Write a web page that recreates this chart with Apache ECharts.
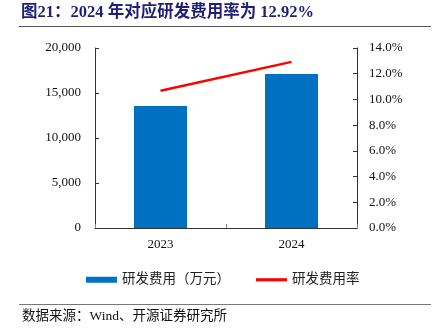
<!DOCTYPE html>
<html><head><meta charset="utf-8">
<script src="https://cdn.jsdelivr.net/npm/echarts@6/dist/echarts.min.js"></script>
<style>html,body{margin:0;padding:0;background:#fff}#c{width:443px;height:335px}</style>
</head><body><div id="c"></div>
<script>
const categories = ['2023', '2024'];
const rdExpense = [13550, 17110];
const rdRate = [10.68, 12.92];
const leftTicks = [0, 5000, 10000, 15000, 20000];
const rightTicks = [0, 2, 4, 6, 8, 10, 12, 14];

const FONT = '"Liberation Serif", "Noto Sans CJK SC", serif';
const chart = echarts.init(document.getElementById('c'));
chart.setOption({
  animation: false,
  textStyle: { fontFamily: FONT },
  graphic: [
    { type: 'text', left: 21, top: 4, style: { text: '图21：2024 年对应研发费用率为 12.92%', font: 'bold 16.5px ' + FONT, fill: '#1F1F7A' } },
    { type: 'line', shape: { x1: 19, y1: 26.5, x2: 431, y2: 26.5 }, style: { stroke: '#555', lineWidth: 1.2 } },
    { type: 'line', shape: { x1: 19, y1: 304.5, x2: 431, y2: 304.5 }, style: { stroke: '#777', lineWidth: 1.2 } },
    { type: 'text', left: 22, top: 310, style: { text: '数据来源：Wind、开源证券研究所', font: '13.5px ' + FONT, fill: '#111' } }
  ],
  legend: {
    top: 268, left: 81, itemGap: 26, itemWidth: 31, itemHeight: 6,
    textStyle: { fontSize: 13.5, color: '#222', fontFamily: FONT },
    data: [
      { name: '研发费用（万元）', icon: 'rect' },
      { name: '研发费用率', icon: 'path://M0,0H10V1H0Z' }
    ]
  },
  grid: { left: 95, right: 86, top: 48, bottom: 107, containLabel: false },
  xAxis: {
    type: 'category', data: categories,
    axisLine: { lineStyle: { color: '#333', width: 1 } },
    axisTick: { show: true, inside: true, length: 4, lineStyle: { color: '#888' } },
    axisLabel: { color: '#111', fontSize: 13, margin: 10, fontFamily: FONT }
  },
  yAxis: [
    {
      type: 'value', min: 0, max: 20000, interval: 5000,
      axisLine: { show: true, lineStyle: { color: '#333' } },
      axisTick: { show: true, inside: true, length: 4, lineStyle: { color: '#333' } },
      splitLine: { show: false },
      axisLabel: { color: '#111', fontSize: 13, margin: 14, fontFamily: FONT,
        formatter: v => v.toLocaleString('en-US') }
    },
    {
      type: 'value', min: 0, max: 14, interval: 2,
      axisLine: { show: true, lineStyle: { color: '#333' } },
      axisTick: { show: true, inside: true, length: 4, lineStyle: { color: '#333' } },
      splitLine: { show: false },
      axisLabel: { color: '#111', fontSize: 13, margin: 12, fontFamily: FONT,
        formatter: v => v.toFixed(1) + '%' }
    }
  ],
  series: [
    { name: '研发费用（万元）', type: 'bar', data: rdExpense, barWidth: 53, itemStyle: { color: '#0070C0' } },
    { name: '研发费用率', type: 'line', yAxisIndex: 1, data: rdRate, symbol: 'none',
      lineStyle: { color: '#FF0000', width: 2.5 }, itemStyle: { color: '#FF0000' } }
  ]
});
</script></body></html>
